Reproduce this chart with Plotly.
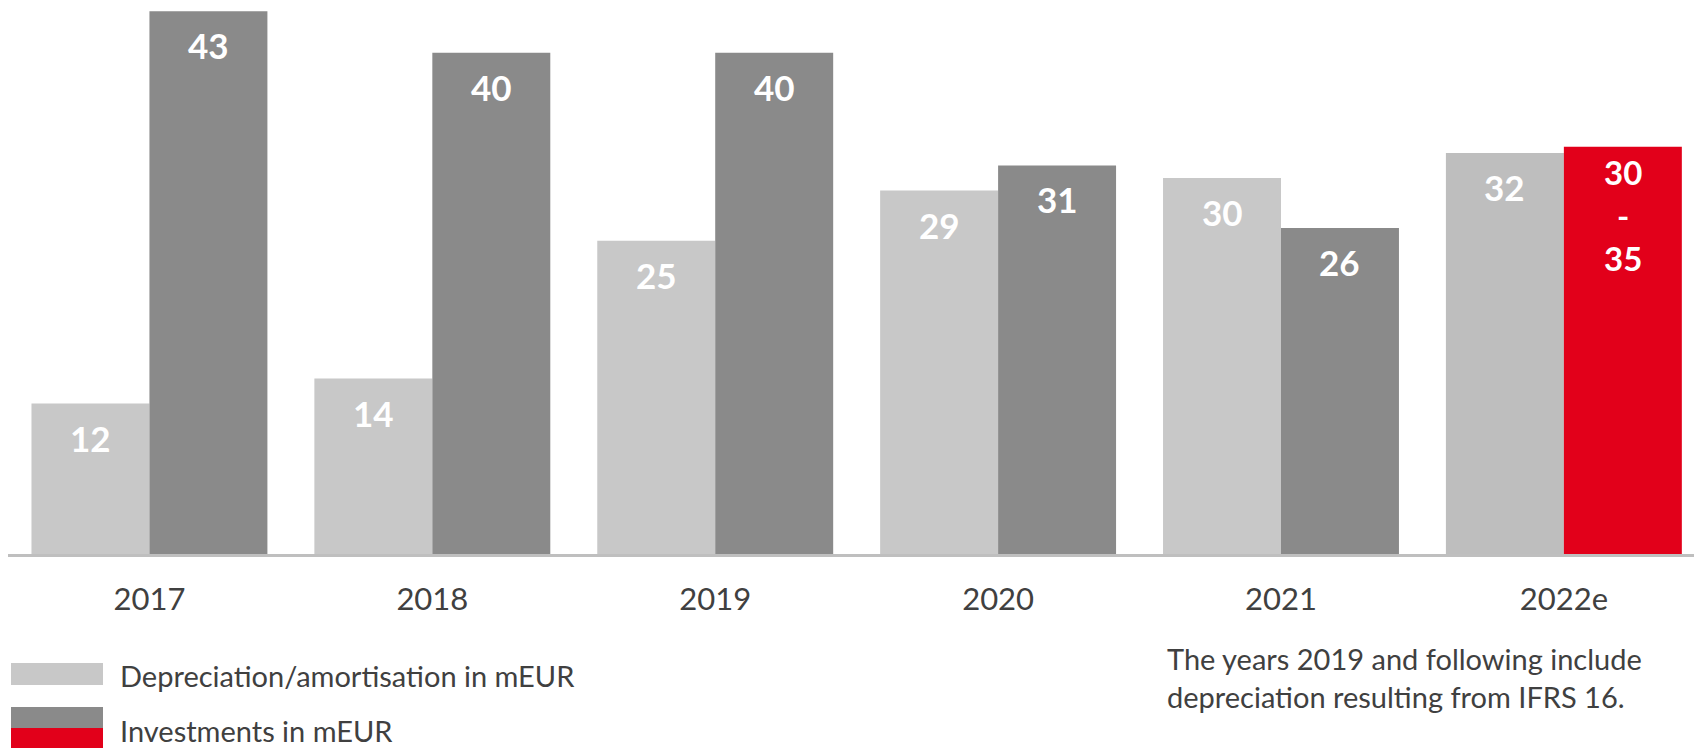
import plotly.graph_objects as go

# ---- data ----
years = ["2017", "2018", "2019", "2020", "2021", "2022e"]
depreciation = [12, 14, 25, 29, 30, 32]
investments = [43.3, 40, 40, 31, 26, 32.5]
dep_labels = ["12", "14", "25", "29", "30", "32"]
inv_labels = ["43", "40", "40", "31", "26", "30\n-\n35"]
dep_colors = ["#C8C8C8"] * 5 + ["#BEBEBE"]
inv_colors = ["#8A8A8A"] * 5 + ["#E2001A"]
legend_dep = "Depreciation/amortisation in mEUR"
legend_inv = "Investments in mEUR"
note = "The years 2019 and following include<br>depreciation resulting from IFRS 16."

# ---- layout geometry ----
W, H = 1694, 748
ML, MR, MT, MB = 8, 0, 0, 194
PW, PH = W - ML - MR, H - MT - MB
X_RANGE = [-0.5, 5.46]
Y_RANGE = [0, 44.2]
BARGAP = 0.166
FONT = "Lato, 'Open Sans', sans-serif"
TXT = "#404040"

px_per_cat = PW / (X_RANGE[1] - X_RANGE[0])
bar_px = (1 - BARGAP) / 2 * px_per_cat


def px_x(x):
    return (x - ML) / PW


def px_y(y):
    return (MT + PH - y) / PH


fig = go.Figure()
fig.add_trace(go.Bar(x=years, y=depreciation, marker=dict(color=dep_colors, line=dict(width=0)),
                     hoverinfo="skip", showlegend=False))
fig.add_trace(go.Bar(x=years, y=investments, marker=dict(color=inv_colors, line=dict(width=0)),
                     hoverinfo="skip", showlegend=False))

annotations = []
label_font = dict(family=FONT, size=35, color="white", weight="bold")
for i, (v, lab) in enumerate(zip(depreciation, dep_labels)):
    annotations.append(dict(x=i, y=v, xref="x", yref="y", text=lab, showarrow=False,
                            xshift=-bar_px / 2, yshift=-34, yanchor="middle", font=label_font))
for i, (v, lab) in enumerate(zip(investments, inv_labels)):
    lines = lab.split("\n")
    if len(lines) == 1:
        annotations.append(dict(x=i, y=v, xref="x", yref="y", text=lab, showarrow=False,
                                xshift=bar_px / 2, yshift=-34, yanchor="middle", font=label_font))
    else:
        annotations.append(dict(x=i, y=v, xref="x", yref="y", text="<br>".join(lines), showarrow=False,
                                xshift=bar_px / 2, yshift=-68, yanchor="middle", align="center",
                                font=dict(family=FONT, size=33, color="white", weight="bold")))

# legend text
annotations.append(dict(x=px_x(118), y=px_y(675), xref="paper", yref="paper", text=legend_dep,
                        showarrow=False, xanchor="left", yanchor="middle",
                        font=dict(family=FONT, size=29, color=TXT)))
annotations.append(dict(x=px_x(118), y=px_y(730), xref="paper", yref="paper", text=legend_inv,
                        showarrow=False, xanchor="left", yanchor="middle",
                        font=dict(family=FONT, size=29, color=TXT)))
# note
annotations.append(dict(x=px_x(1165), y=px_y(677), xref="paper", yref="paper", text=note,
                        showarrow=False, xanchor="left", yanchor="middle", align="left",
                        font=dict(family=FONT, size=29, color=TXT)))

shapes = [
    dict(type="rect", xref="paper", yref="paper", x0=px_x(11), x1=px_x(103), y0=px_y(685), y1=px_y(663),
         fillcolor=dep_colors[0], line=dict(width=0)),
    dict(type="rect", xref="paper", yref="paper", x0=px_x(11), x1=px_x(103), y0=px_y(728), y1=px_y(707),
         fillcolor=inv_colors[0], line=dict(width=0)),
    dict(type="rect", xref="paper", yref="paper", x0=px_x(11), x1=px_x(103), y0=px_y(749), y1=px_y(728),
         fillcolor=inv_colors[-1], line=dict(width=0)),
]

fig.update_layout(
    width=W, height=H,
    margin=dict(l=ML, r=MR, t=MT, b=MB, pad=0),
    paper_bgcolor="white", plot_bgcolor="white",
    barmode="group", bargap=BARGAP, bargroupgap=0,
    showlegend=False,
    annotations=annotations, shapes=shapes,
    font=dict(family=FONT, color=TXT),
)
fig.update_xaxes(type="category", range=X_RANGE, showline=True, linecolor="#BFBFBF", linewidth=3,
                 ticks="", showgrid=False, zeroline=False, ticklabelstandoff=16,
                 tickfont=dict(family=FONT, size=31, color=TXT))
fig.update_yaxes(range=Y_RANGE, visible=False, showgrid=False, zeroline=False)

fig.write_html("out.html")
